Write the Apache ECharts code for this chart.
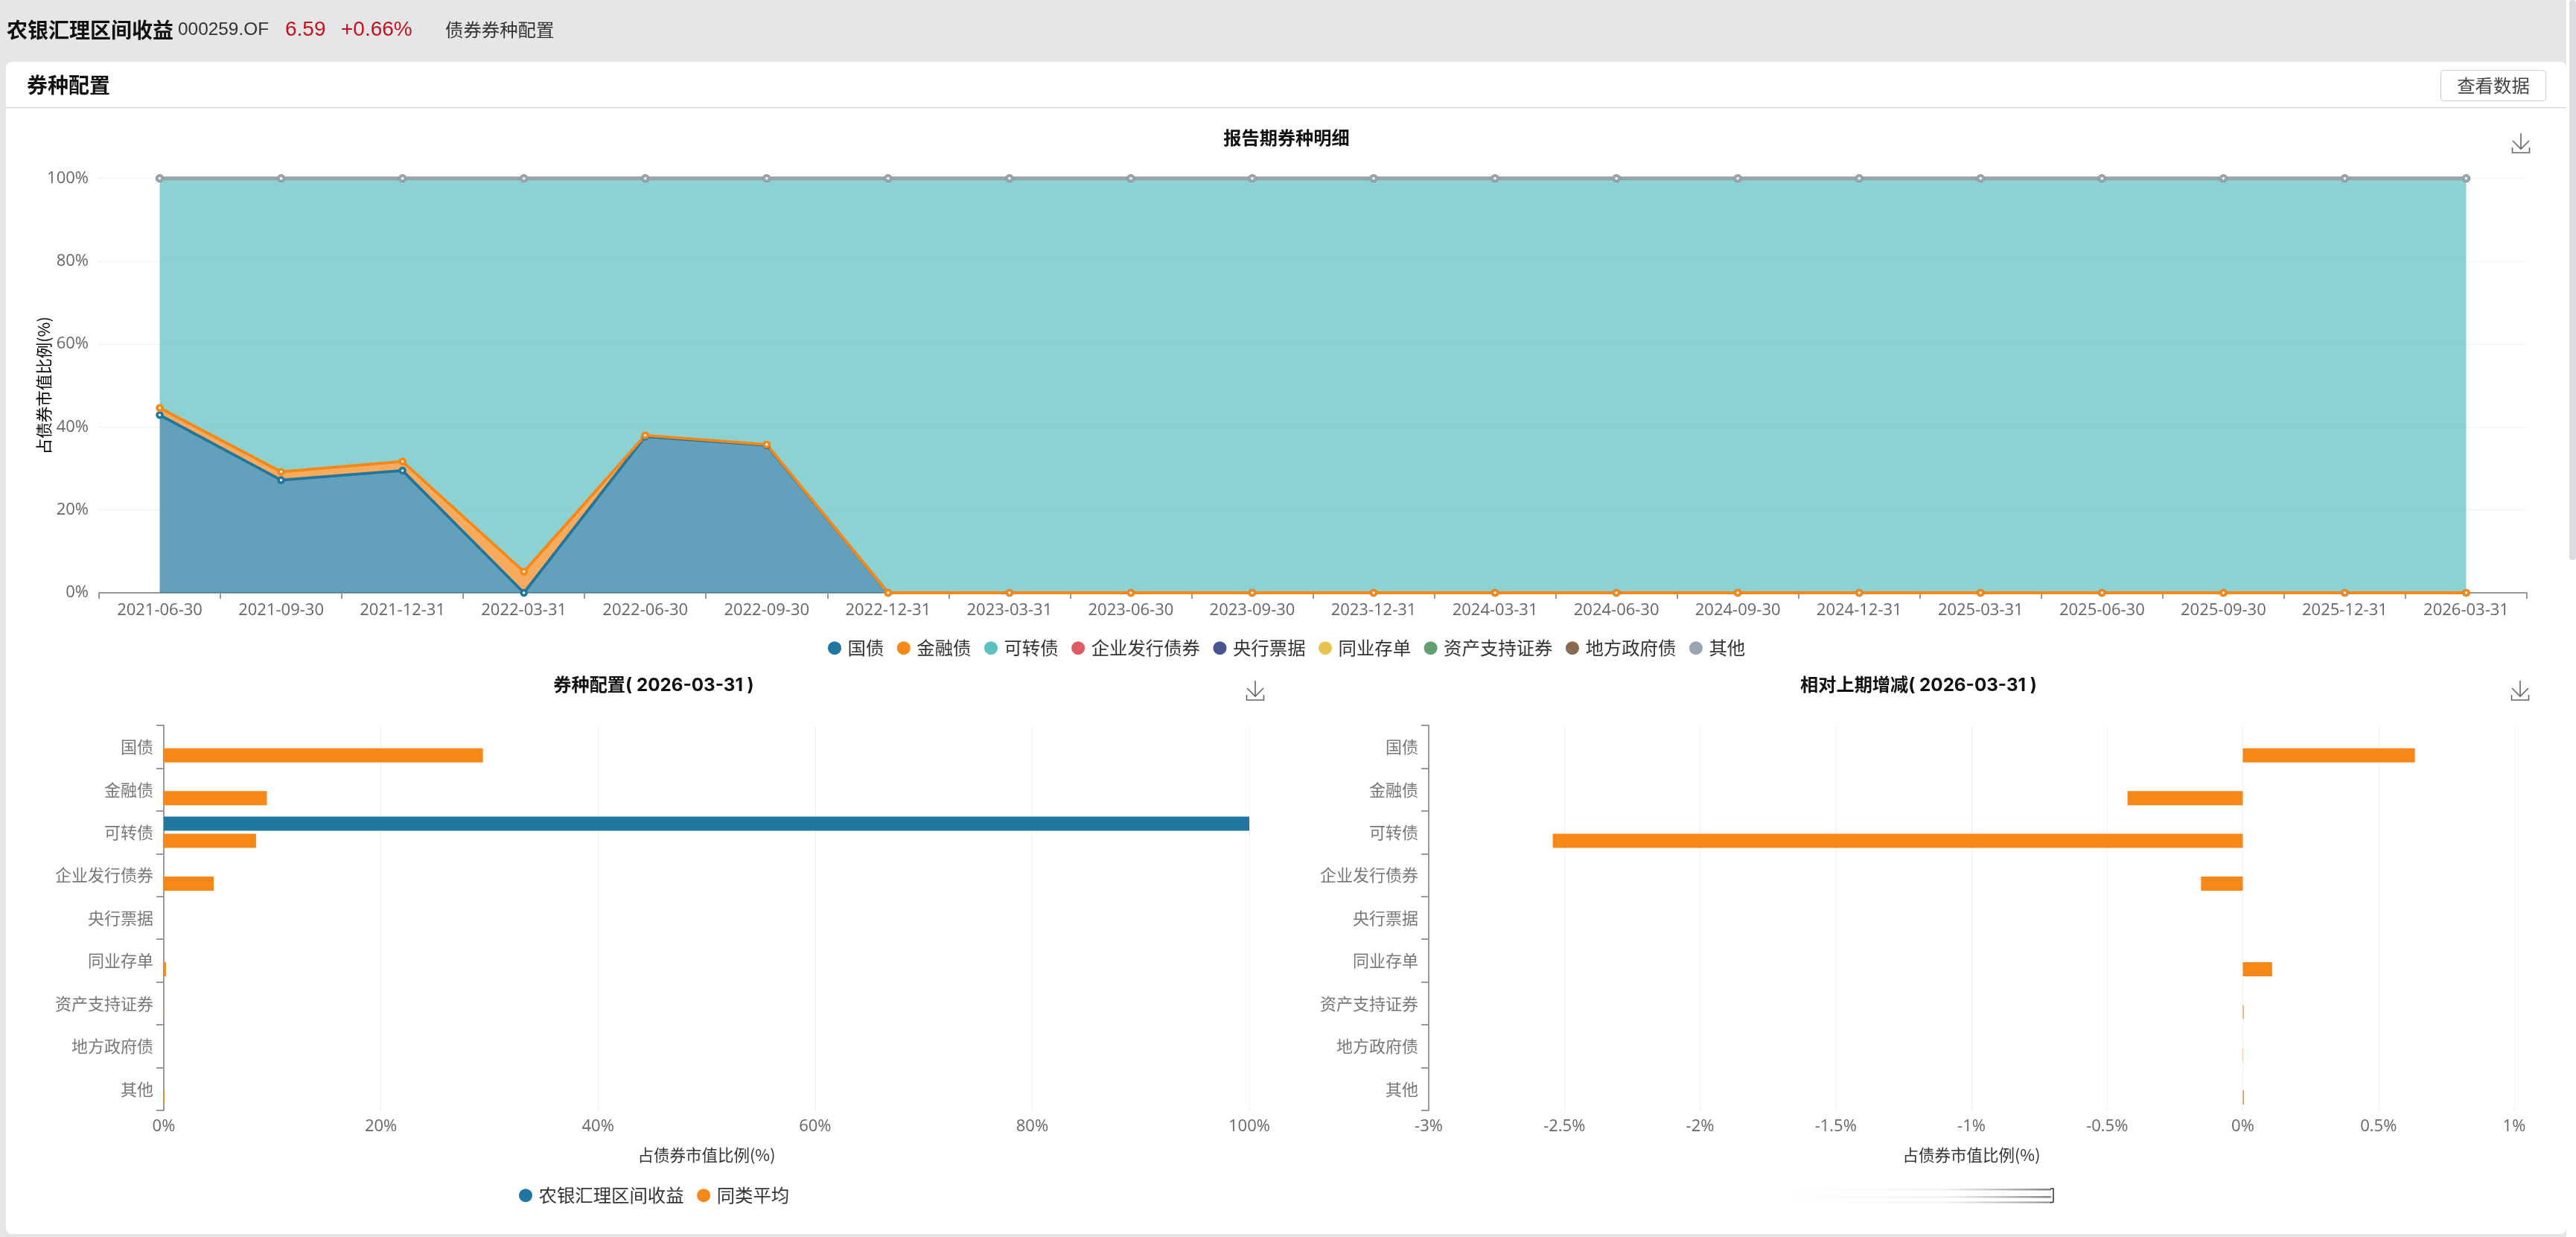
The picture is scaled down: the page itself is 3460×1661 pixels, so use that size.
<!DOCTYPE html>
<html lang="zh-CN">
<head>
<meta charset="utf-8">
<title>债券券种配置</title>
<style>
html,body{margin:0;padding:0;background:#fff;overflow:hidden}
#chart{width:3460px;height:1661px}
</style>
<script src="https://cdn.jsdelivr.net/npm/echarts@6/dist/echarts.min.js"></script>
</head>
<body>
<div id="chart"></div>
<script>
// Report dates for the stacked allocation history
const reportDates = ['2021-06-30','2021-09-30','2021-12-31','2022-03-31','2022-06-30','2022-09-30','2022-12-31','2023-03-31','2023-06-30','2023-09-30','2023-12-31','2024-03-31','2024-06-30','2024-09-30','2024-12-31','2025-03-31','2025-06-30','2025-09-30','2025-12-31','2026-03-31'];
const bondTypes = ['国债','金融债','可转债','企业发行债券','央行票据','同业存单','资产支持证券','地方政府债','其他'];
const bondColors = ['#1f77a0','#f78818','#5cbfc0','#e05c63','#4a5490','#e5c550','#62a073','#8a6b52','#98a5b3'];

// Share of bond market value per report date (%)
const govBond     = [42.9,27.2,29.5,0,37.7,35.6,0,0,0,0,0,0,0,0,0,0,0,0,0,0];
const finBond     = [1.7,2.0,2.2,5.1,0.3,0.2,0,0,0,0,0,0,0,0,0,0,0,0,0,0];
const convBond    = [55.4,70.8,68.3,94.9,62.0,64.2,100,100,100,100,100,100,100,100,100,100,100,100,100,100];
const corpBond    = [0,0,0,0,0,0,0,0,0,0,0,0,0,0,0,0,0,0,0,0];
const centralBill = [0,0,0,0,0,0,0,0,0,0,0,0,0,0,0,0,0,0,0,0];
const ncd         = [0,0,0,0,0,0,0,0,0,0,0,0,0,0,0,0,0,0,0,0];
const absBond     = [0,0,0,0,0,0,0,0,0,0,0,0,0,0,0,0,0,0,0,0];
const localBond   = [0,0,0,0,0,0,0,0,0,0,0,0,0,0,0,0,0,0,0,0];
const otherBond   = [0,0,0,0,0,0,0,0,0,0,0,0,0,0,0,0,0,0,0,0];
const historySeries = [govBond,finBond,convBond,corpBond,centralBill,ncd,absBond,localBond,otherBond];

// Latest period: fund versus peer average, and change on the previous period
const fundName = '农银汇理区间收益';
const peerName = '同类平均';
const fundShare  = [0,0,100,0,0,0,0,0,0];
const peerShare  = [29.4,9.5,8.5,4.6,0,0.2,0.02,0,0.05];
const fundChange = [0,0,0,0,0,0,0,0,0];
const peerChange = [0.634,-0.425,-2.543,-0.154,0,0.108,0.003,0.001,0.004];

const shareTicks = [0,20,40,60,80,100];
const CJK = '"Noto Sans CJK SC","Noto Sans",sans-serif';
const LATIN = '"Open Sans","Noto Sans CJK SC",sans-serif';
const ARIAL = '"Liberation Sans","Noto Sans CJK SC",sans-serif';
const TITLE_FONT = 'Inter,"Noto Sans CJK SC",sans-serif';
const FUND_BLUE = bondColors[0], PEER_ORANGE = bondColors[1];
const axisGray = '#999';
const gridDotted = {show:true,lineStyle:{type:'dotted',color:'#e2e2e2',width:1}};

function txt(x,y,text,size,color,extra){
  return {type:'text',x:x,y:y,z:5,silent:true,style:Object.assign({text:text,fontSize:size,fill:color,fontFamily:CJK,verticalAlign:'middle',align:'left'},extra||{})};
}
function rect(x,y,w,h,fill,r,z){
  return {type:'rect',z:z===undefined?-5:z,silent:true,shape:{x:x,y:y,width:w,height:h,r:r||0},style:{fill:fill}};
}
// Download glyph: arrow over a tray
function downloadIcon(cx,top){
  const st={stroke:'#666',lineWidth:1.6,fill:null};
  return {type:'group',z:5,silent:true,children:[
    {type:'polyline',shape:{points:[[cx,top],[cx,top+21]]},style:st},
    {type:'polyline',shape:{points:[[cx-11,top+10],[cx,top+21],[cx+11,top+10]]},style:st},
    {type:'polyline',shape:{points:[[cx-11.5,top+19],[cx-11.5,top+26],[cx+11.5,top+26],[cx+11.5,top+19]]},style:st}
  ]};
}
// A faded legend remnant: three lines fading in to the right, closed by a bracket
function fadedLine(y,h){
  return {type:'rect',z:5,silent:true,shape:{x:2395,y:y,width:360,height:h},style:{
    fill:{type:'linear',x:0,y:0,x2:1,y2:0,colorStops:[{offset:0,color:'rgba(150,150,150,0)'},{offset:0.6,color:'rgba(150,150,150,0.12)'},{offset:1,color:'rgba(110,110,110,0.85)'}]}
  }};
}

const pageChrome = [
  rect(0,0,3460,1661,'#e5e6e8',0,-10),
  rect(3447,0,13,1661,'#ffffff',0,-9),
  rect(8,83,3439,1574,'#ffffff',8,-8),
  rect(3451,0,9,752,'#dcdde1',4,-7),
  rect(8,144,3439,1,'#cfcfcf',0,-6),
  rect(577,27,1,26,'#e0e1e3',0,-6),
  txt(9,40,'农银汇理区间收益',28,'#111',{fontWeight:'bold'}),
  txt(239,40,'000259.OF',24.4,'#333',{fontFamily:ARIAL}),
  txt(383,40,'6.59',28,'#c8101a',{fontFamily:ARIAL}),
  txt(458,40,'+0.66%',28,'#c8101a',{fontFamily:ARIAL}),
  txt(598,40,'债券券种配置',24.4,'#333'),
  txt(36,114,'券种配置',28,'#111',{fontWeight:'bold'}),
  {type:'rect',z:4,silent:true,shape:{x:3278.5,y:94.5,width:141,height:41,r:4},style:{fill:'#fff',stroke:'#ccc',lineWidth:1}},
  txt(3349,114.5,'查看数据',24.4,'#444',{align:'center'}),
  downloadIcon(3386,179),
  downloadIcon(1686,914),
  downloadIcon(3385,914),
  fadedLine(1596,2.5),
  fadedLine(1606,2.5),
  fadedLine(1613.5,2),
  {type:'polyline',z:6,silent:true,shape:{points:[[2754,1596],[2758,1596],[2758,1614],[2754,1615]]},style:{stroke:'#333',lineWidth:1.5,fill:null}}
];

function titleAt(cx,cy,text){
  return {text:text,left:cx,top:cy-11,padding:0,textAlign:'center',textStyle:{fontSize:24.2,fontWeight:'bold',color:'#111',fontFamily:TITLE_FONT,lineHeight:26}};
}

const lineSeries = bondTypes.map(function(name,i){
  return {
    name:name,type:'line',stack:'allocation',xAxisIndex:0,yAxisIndex:0,data:historySeries[i],
    symbol:'circle',symbolSize:7,showAllSymbol:true,
    lineStyle:{width:i===8?4.6:3.8,color:bondColors[i]},
    itemStyle:{color:'#ffffff',borderColor:bondColors[i],borderWidth:3.6},
    areaStyle:{color:bondColors[i],opacity:0.7},
    emphasis:{disabled:true}
  };
});

function barPair(axis,fund,peer){
  const base={type:'bar',xAxisIndex:axis,yAxisIndex:axis,barWidth:19,barGap:'21%',emphasis:{disabled:true}};
  return [
    Object.assign({},base,{name:fundName,data:fund,itemStyle:{color:FUND_BLUE}}),
    Object.assign({},base,{name:peerName,data:peer,itemStyle:{color:PEER_ORANGE}})
  ];
}

function categoryAxis(gridIndex){
  return {
    type:'category',gridIndex:gridIndex,inverse:true,data:bondTypes,
    axisLine:{onZero:false,lineStyle:{color:axisGray,width:2}},
    axisTick:{show:true,length:10,lineStyle:{color:axisGray,width:2}},
    axisLabel:{interval:0,margin:14,fontSize:22,color:'#777',fontFamily:CJK,padding:[0,0,6,0]},
    splitLine:{show:false}
  };
}
function valueAxis(gridIndex,min,max,interval){
  return {
    type:'value',gridIndex:gridIndex,min:min,max:max,interval:interval,
    name:'占债券市值比例(%)',nameLocation:'middle',nameGap:49,
    nameTextStyle:{fontSize:21.5,color:'#333',fontFamily:CJK},
    axisLine:{show:false},axisTick:{show:false},
    axisLabel:{formatter:'{value}%',margin:11,fontSize:22,color:'#666',fontFamily:LATIN,hideOverlap:false},
    splitLine:gridDotted
  };
}

const option = {
  animation:false,
  backgroundColor:'#ffffff',
  textStyle:{fontFamily:CJK},
  graphic:{elements:pageChrome},
  title:[
    titleAt(1728,185,'报告期券种明细'),
    titleAt(878,919,'券种配置( 2026-03-31 )'),
    titleAt(2577,919,'相对上期增减( 2026-03-31 )')
  ],
  legend:[
    {
      data:bondTypes.map(function(n,i){return {name:n,icon:'circle',itemStyle:{color:bondColors[i],borderWidth:0}};}),
      left:1112,top:858,padding:0,itemWidth:25,itemHeight:18,itemGap:17.5,selectedMode:false,
      textStyle:{fontSize:24.4,color:'#333',fontFamily:CJK}
    },
    {
      data:[{name:fundName,icon:'circle'},{name:peerName,icon:'circle'}],
      left:697,top:1593,padding:0,itemWidth:25,itemHeight:18,itemGap:17.5,selectedMode:false,
      textStyle:{fontSize:24.4,color:'#333',fontFamily:CJK}
    }
  ],
  grid:[
    {left:133,top:239.5,width:3261,height:556.5},
    {left:220,top:974,width:1458,height:517},
    {left:1919,top:974,width:1458,height:517}
  ],
  xAxis:[
    {
      type:'category',gridIndex:0,data:reportDates,boundaryGap:true,
      axisLine:{lineStyle:{color:axisGray,width:2}},
      axisTick:{show:true,length:8,lineStyle:{color:axisGray,width:2}},
      axisLabel:{interval:0,margin:13,fontSize:22,color:'#666',fontFamily:LATIN},
      splitLine:{show:false}
    },
    valueAxis(1,shareTicks[0],shareTicks[shareTicks.length-1],20),
    valueAxis(2,-3,1,0.5)
  ],
  yAxis:[
    {
      type:'value',gridIndex:0,min:shareTicks[0],max:shareTicks[shareTicks.length-1],interval:20,
      name:'占债券市值比例(%)',nameLocation:'middle',nameGap:63,nameRotate:90,nameMoveOverlap:false,
      nameTextStyle:{fontSize:21.5,color:'#000',fontFamily:CJK},
      axisLine:{show:false},axisTick:{show:false},
      axisLabel:{formatter:'{value}%',margin:14,fontSize:22,color:'#666',fontFamily:LATIN},
      splitLine:gridDotted
    },
    categoryAxis(1),
    categoryAxis(2)
  ],
  series:lineSeries.concat(barPair(1,fundShare,peerShare),barPair(2,fundChange,peerChange))
};

const chart = echarts.init(document.getElementById('chart'),null,{renderer:'canvas',width:3460,height:1661});
chart.setOption(option);
</script>
</body>
</html>
